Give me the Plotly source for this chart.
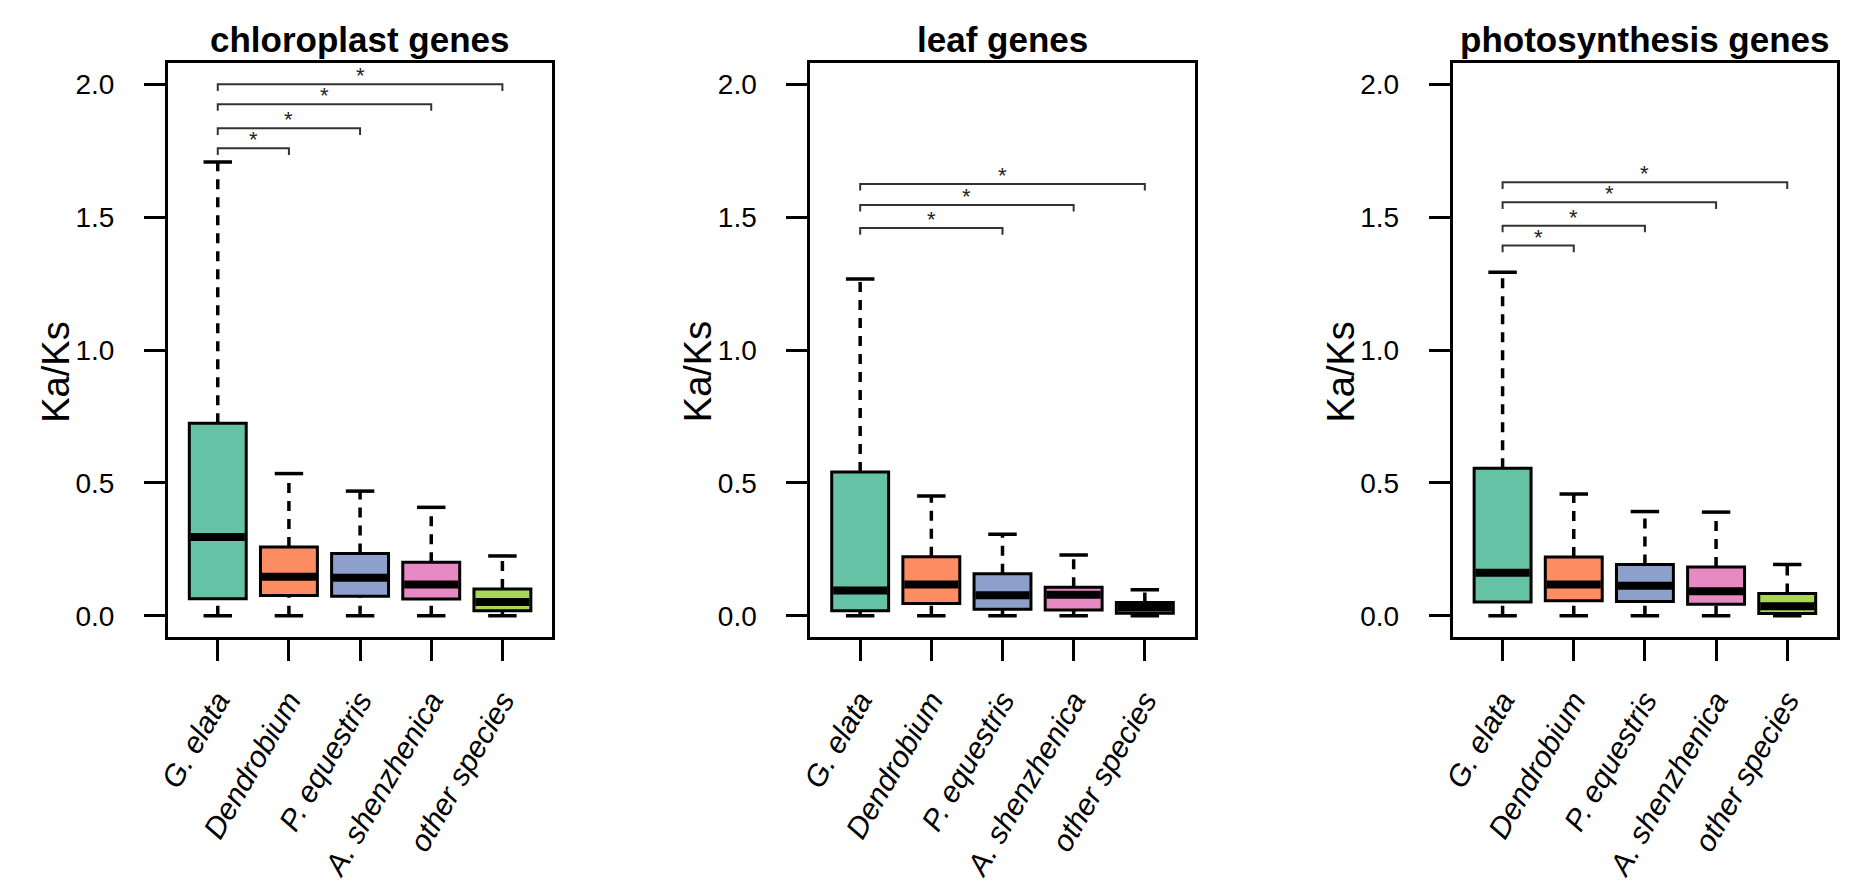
import plotly.graph_objects as go

# ---------------- data ----------------
categories = ["G. elata", "Dendrobium", "P. equestris", "A. shenzhenica", "other species"]
panel_titles = ["chloroplast genes", "leaf genes", "photosynthesis genes"]
box_colors = ["#66C2A5", "#FC8D62", "#8DA0CB", "#E78AC3", "#A6D854"]

# chloroplast genes
chl_low = [0.0, 0.0, 0.0, 0.0, 0.0]
chl_q1 = [0.064, 0.076, 0.073, 0.063, 0.019]
chl_med = [0.296, 0.147, 0.143, 0.118, 0.052]
chl_q3 = [0.724, 0.259, 0.234, 0.201, 0.101]
chl_high = [1.707, 0.535, 0.469, 0.408, 0.225]

# leaf genes
leaf_low = [0.0, 0.0, 0.0, 0.0, 0.0]
leaf_q1 = [0.019, 0.046, 0.024, 0.022, 0.009]
leaf_med = [0.095, 0.118, 0.077, 0.079, 0.031]
leaf_q3 = [0.541, 0.222, 0.158, 0.107, 0.050]
leaf_high = [1.267, 0.451, 0.307, 0.229, 0.098]

# photosynthesis genes
pho_low = [0.0, 0.0, 0.0, 0.0, 0.0]
pho_q1 = [0.052, 0.056, 0.054, 0.043, 0.008]
pho_med = [0.162, 0.118, 0.113, 0.092, 0.036]
pho_q3 = [0.555, 0.221, 0.193, 0.183, 0.084]
pho_high = [1.293, 0.458, 0.392, 0.390, 0.193]

# significance brackets: (target category index 1-based, height)
chl_brackets = [(2, 1.759), (3, 1.834), (4, 1.925), (5, 2.000)]
leaf_brackets = [(3, 1.459), (4, 1.546), (5, 1.625)]
pho_brackets = [(2, 1.393), (3, 1.468), (4, 1.556), (5, 1.631)]

y_tickvals = [0.0, 0.5, 1.0, 1.5, 2.0]
y_ticktext = ["0.0", "0.5", "1.0", "1.5", "2.0"]
y_title = "Ka/Ks"

panels = [
    (chl_low, chl_q1, chl_med, chl_q3, chl_high, chl_brackets),
    (leaf_low, leaf_q1, leaf_med, leaf_q3, leaf_high, leaf_brackets),
    (pho_low, pho_q1, pho_med, pho_q3, pho_high, pho_brackets),
]

# ---------------- layout geometry ----------------
# page body has an 8px margin, so the figure is made 16px smaller and
# all screen positions are shifted by that margin
M = 8
W, H = 1851 - 2 * M, 890 - 2 * M
panel_left = [156 - M, 803 - M, 1450 - M]
panel_w = 387
frame_top, frame_bot = 63 - M, 637 - M
FONT = "Liberation Sans, Arial, Helvetica, sans-serif"

fig = go.Figure()
box_half = 0.4
cap_half = 0.2
br_drop = 0.025

for p, (low, q1, med, q3, high, brackets) in enumerate(panels):
    xa = "x" if p == 0 else f"x{p+1}"
    ya = "y" if p == 0 else f"y{p+1}"
    xs = list(range(1, len(categories) + 1))

    # dashed whiskers
    wx, wy = [], []
    for i, x in enumerate(xs):
        wx += [x, x, None, x, x, None]
        wy += [q3[i], high[i], None, low[i], q1[i], None]
    fig.add_trace(go.Scatter(x=wx, y=wy, mode="lines", xaxis=xa, yaxis=ya,
                             line=dict(color="black", width=3.5, dash="10px,8px"),
                             showlegend=False, hoverinfo="skip"))
    # caps
    cx, cy = [], []
    for i, x in enumerate(xs):
        cx += [x - cap_half, x + cap_half, None, x - cap_half, x + cap_half, None]
        cy += [high[i], high[i], None, low[i], low[i], None]
    fig.add_trace(go.Scatter(x=cx, y=cy, mode="lines", xaxis=xa, yaxis=ya,
                             line=dict(color="black", width=3.5),
                             showlegend=False, hoverinfo="skip"))
    # boxes
    fig.add_trace(go.Bar(x=xs, y=[q3[i] - q1[i] for i in range(len(xs))], base=q1,
                         width=2 * box_half, xaxis=xa, yaxis=ya,
                         marker=dict(color=box_colors, line=dict(color="black", width=3)),
                         showlegend=False, hoverinfo="skip"))
    # medians
    mx, my = [], []
    for i, x in enumerate(xs):
        mx += [x - box_half + 0.02, x + box_half - 0.02, None]
        my += [med[i], med[i], None]
    fig.add_trace(go.Scatter(x=mx, y=my, mode="lines", xaxis=xa, yaxis=ya,
                             line=dict(color="black", width=8),
                             showlegend=False, hoverinfo="skip"))
    # brackets
    bx, by = [], []
    for (k, h) in brackets:
        bx += [1, 1, k, k, None]
        by += [h - br_drop, h, h, h - br_drop, None]
        fig.add_annotation(x=(1 + k) / 2, y=h, xref=xa, yref=ya, text="*",
                           showarrow=False, yanchor="bottom", yshift=-6,
                           font=dict(family=FONT, size=22, color="#222"))
    fig.add_trace(go.Scatter(x=bx, y=by, mode="lines", xaxis=xa, yaxis=ya,
                             line=dict(color="#333", width=2),
                             showlegend=False, hoverinfo="skip"))

    # axes
    x0 = panel_left[p] / W
    x1 = (panel_left[p] + panel_w) / W
    axis_common = dict(showline=True, linecolor="black", linewidth=3, mirror=True,
                       showgrid=False, zeroline=False, ticks="outside",
                       ticklen=21, tickwidth=3, tickcolor="black")
    fig.update_layout(**{
        ("xaxis" if p == 0 else f"xaxis{p+1}"): dict(
            domain=[x0, x1], range=[0.3, 5.7], anchor=ya,
            tickvals=xs, ticktext=[f"<i>{c}</i>" for c in categories],
            tickangle=-60, ticklabelstandoff=10,
            tickfont=dict(family=FONT, size=30, color="black"), **axis_common),
        ("yaxis" if p == 0 else f"yaxis{p+1}"): dict(
            domain=[1 - frame_bot / H, 1 - frame_top / H], range=[-0.08, 2.08], anchor=xa,
            tickvals=y_tickvals, ticktext=y_ticktext, ticklabelstandoff=24,
            tickfont=dict(family=FONT, size=28, color="black"), **axis_common),
    })
    # panel title
    fig.add_annotation(x=(x0 + x1) / 2, y=1 - (40 - M) / H, xref="paper", yref="paper",
                       text=f"<b>{panel_titles[p]}</b>", showarrow=False,
                       xanchor="center", yanchor="middle",
                       font=dict(family=FONT, size=35, color="black"))
    # y axis title
    fig.add_annotation(x=(panel_left[p] - 113) / W, y=1 - (372 - M) / H, xref="paper", yref="paper",
                       text=y_title, showarrow=False, textangle=-90,
                       xanchor="center", yanchor="middle",
                       font=dict(family=FONT, size=38, color="black"))

fig.update_layout(width=W, height=H, margin=dict(l=0, r=0, t=0, b=0),
                  plot_bgcolor="white", paper_bgcolor="white", barmode="overlay",
                  font=dict(family=FONT, color="black"))

fig.write_html("out.html")
